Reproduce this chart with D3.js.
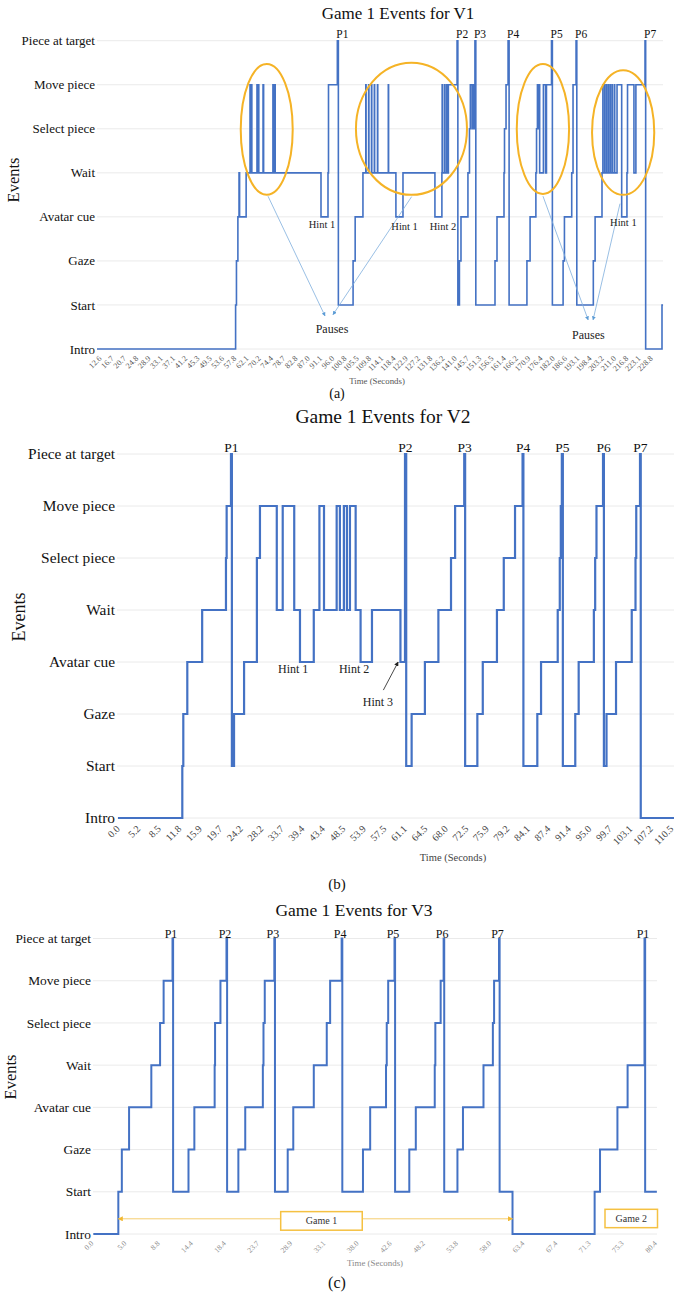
<!DOCTYPE html>
<html>
<head>
<meta charset="utf-8">
<script src="https://cdn.jsdelivr.net/npm/d3@7"></script>
<style>
  body { margin: 0; background: #fff; }
  text { font-family: "Liberation Serif", "Times New Roman", serif; }
</style>
</head>
<body>
<svg id="fig" width="674" height="1298"></svg>
<script>
// event categories, bottom to top
const events = ["Intro", "Start", "Gaze", "Avatar cue", "Wait", "Select piece", "Move piece", "Piece at target"];

// category labels shown on the time axes (seconds)
const ticksV1 = [12.6, 16.7, 20.7, 24.8, 28.9, 33.1, 37.1, 41.2, 45.3, 49.5, 53.6, 57.8, 62.1, 70.2, 74.4, 78.7, 82.8, 87.0, 91.1, 96.0,
  100.8, 105.5, 109.8, 114.1, 118.4, 122.9, 127.2, 131.8, 136.2, 141.0, 145.7, 151.3, 156.5, 161.4, 166.2, 170.9, 176.4, 182.0, 186.6,
  193.1, 198.4, 203.2, 211.0, 216.8, 223.1, 228.8];
const ticksV2 = [0.0, 5.2, 8.5, 11.8, 15.9, 19.7, 24.2, 28.2, 33.7, 39.4, 43.4, 48.5, 53.9, 57.5, 61.1, 64.5, 68.0, 72.5, 75.9, 79.2,
  84.1, 87.4, 91.4, 95.0, 99.7, 103.1, 107.2, 110.5];
const ticksV3 = [0.0, 5.0, 8.8, 14.4, 18.4, 23.7, 28.9, 33.1, 38.0, 42.6, 48.2, 53.8, 58.0, 63.4, 67.4, 71.3, 75.3, 80.4];

// [time (s), event index] - step changes
const stepsV1 = [[11.6,0],[58.1,1],[58.4,2],[58.9,3],[59.3,4],[59.5,3],[61.8,4],
  [64.1,6],[64.4,4],[65.0,6],[65.3,4],[68.7,6],[69.0,4],[69.6,6],[69.9,4],[71.5,6],[71.7,4],[74.9,6],[75.1,4],[75.5,6],[75.7,4],
  [91.3,3],[94.1,4],[94.3,6],[97.8,7],[98.2,1],[103.9,2],[104.7,3],[107.5,4],
  [108.5,6],[108.6,4],[109.5,6],[109.6,4],[110.5,6],[110.6,4],[111.5,6],[111.6,4],[112.6,6],[112.7,4],[116.4,6],[116.5,4],
  [119.1,3],[121.7,4],[133.3,3],[135.8,4],[135.9,6],[136.0,4],[136.8,6],[136.9,4],[137.6,6],[137.7,4],[138.3,6],[141.7,7],[142.0,1],
  [142.6,2],[143.2,3],[145.9,4],[146.6,5],[147.0,6],[147.8,5],[148.0,6],[148.6,5],[148.8,6],[149.1,7],[149.5,1],
  [157.7,2],[158.5,3],[161.3,4],[161.5,5],[162.1,6],[162.9,7],[163.3,1],
  [170.2,2],[171.5,3],[174.1,4],[174.4,5],[174.8,6],[175.3,5],[175.5,6],[175.8,4],[177.5,6],[178.5,4],[178.9,6],[181.2,7],[181.6,1],
  [185.7,2],[186.2,3],[189.9,4],[190.6,6],[192.2,7],[192.6,1],
  [199.7,2],[200.4,3],[203.1,4],
  [203.6,6],[203.7,4],[204.8,6],[204.9,4],[206.0,6],[206.1,4],[207.2,6],[207.3,4],[208.4,6],[208.5,4],[209.6,6],[209.7,4],
  [211.0,6],[211.1,4],[212.2,6],
  [214.4,3],[216.9,4],[217.2,6],[220.5,4],[221.5,6],[225.9,7],[226.2,0],[233.8,1],[234.3,1]];

const stepsV2 = [[0.0,0],[12.36,1],[12.56,2],[13.36,3],[16.3,4],[20.9,5],[21.05,6],[22.0,7],[22.2,1],[22.67,2],[24.8,3],
  [27.3,5],[27.9,6],[32.3,4],[33.9,6],[37.1,4],[38.7,3],[41.6,4],[42.7,6],[43.65,4],[46.8,6],[47.6,4],[48.6,6],[49.4,4],
  [50.2,6],[51.7,4],[53.0,3],[55.3,4],[60.3,3],[61.1,7],[61.3,1],[62.2,2],[64.4,3],[66.7,4],[69.1,5],[70.0,6],[72.0,7],
  [72.2,1],[74.3,2],[75.2,3],[77.5,4],[78.6,5],[81.0,6],[82.8,7],[83.0,1],[85.6,2],[86.2,3],[89.2,4],[89.6,5],[89.8,6],
  [90.0,7],[90.2,1],[92.5,2],[93.1,3],[96.0,4],[96.3,5],[96.6,6],[98.1,7],[98.3,1],[98.9,2],[100.7,3],[103.35,4],[104.1,5],
  [104.25,6],[105.0,7],[105.15,0],[110.9,0]];

const stepsV3 = [[0.2,0],[3.97,1],[4.5,2],[5.45,3],[8.0,4],[9.1,5],[9.7,6],[11.2,7],[11.3,1],[13.9,2],[14.75,3],[17.2,4],
  [17.25,5],[17.9,6],[18.7,7],[18.8,1],[20.6,2],[21.7,3],[24.5,4],[24.6,5],[24.8,6],[26.3,7],[26.4,1],[28.4,2],[29.2,3],
  [31.8,4],[33.5,5],[34.0,6],[35.7,7],[35.8,1],[38.8,2],[39.8,3],[42.0,4],[42.1,5],[42.3,6],[43.3,7],[43.4,1],[45.8,2],
  [46.9,3],[50.1,4],[50.2,5],[51.1,6],[51.6,7],[51.7,1],[53.9,2],[54.6,3],[57.2,4],[58.5,5],[58.7,6],[59.5,7],[59.6,1],
  [61.7,0],[71.95,1],[72.6,2],[74.7,3],[76.1,4],[78.7,7],[78.8,1],[80.6,1]];

const piecesV1 = ["P1", "P2", "P3", "P4", "P5", "P6", "P7"];
const piecesV2 = ["P1", "P2", "P3", "P4", "P5", "P6", "P7"];
const piecesV3 = ["P1", "P2", "P3", "P4", "P5", "P6", "P7", "P1"];

// annotations: [label, time, event level]
const hintsV1 = [["Hint 1", 91.7, 2.84], ["Hint 1", 122.3, 2.78], ["Hint 2", 136.2, 2.78], ["Hint 1", 215.2, 2.87]];
const hintsV2 = [["Hint 1", 36.8, 2.86], ["Hint 2", 51.3, 2.86], ["Hint 3", 56.35, 2.23]];
// circled regions: [t0, t1, level0, level1]
const circlesV1 = [[59.9, 81.7, 3.5, 6.47], [105.0, 145.5, 3.5, 6.5], [166.3, 188.5, 3.52, 6.47], [199.2, 230.2, 3.5, 6.33]];
// pause arrows: [t from, level from, t to, level to]
const pauseArrowsV1 = [[73.2, 3.47, 92.9, 0.75], [124.8, 3.46, 96.1, 0.78], [177.3, 3.47, 197.6, 0.66], [213.6, 3.3, 199.6, 0.66]];
const pauseTextV1 = [[95.7, 0.45], [197.7, 0.32]];
// game spans: [label, box t0, box t1, level0, level1, arrow start, arrow end]
const gamesV3 = [["Game 1", 27.3, 38.7, 0.09, 0.53, 3.97, 61.7], ["Game 2", 73.2, 80.7, 0.15, 0.585, null, null]];

const blue = "#4472C4";
const svg = d3.select("#fig");

const defs = svg.append("defs");
function marker(id, color, size) {
  defs.append("marker").attr("id", id).attr("viewBox", "0 0 10 10").attr("refX", 9).attr("refY", 5)
    .attr("markerWidth", size).attr("markerHeight", size).attr("orient", "auto")
    .append("path").attr("d", "M0,0L10,5L0,10Z").attr("fill", color);
}
marker("mBlue", "#5B9BD5", 5);
marker("mBlack", "#222", 5);
marker("mGold", "#F2B830", 5);

function panel(o) {
  const g = svg.append("g");
  const x = d3.scaleLinear().domain(o.ticks).range(o.ticks.map((d, i) => o.x0 + i * o.dx));
  const y = d3.scaleLinear().domain([0, 7]).range([o.bottom, o.top]);

  g.selectAll(".grid").data(d3.range(8)).join("line")
    .attr("x1", o.left).attr("x2", o.right).attr("y1", d => y(d)).attr("y2", d => y(d))
    .attr("stroke", "#e4e4e4").attr("stroke-width", 0.8);

  g.selectAll(".ylab").data(events).join("text")
    .attr("x", o.left - 2).attr("y", (d, i) => y(i)).attr("dy", "0.35em")
    .attr("text-anchor", "end").attr("font-size", o.yFont).attr("fill", "#111").text(d => d);

  g.selectAll(".xlab").data(o.ticks).join("text")
    .attr("transform", d => `translate(${x(d) + o.tx},${o.bottom + o.ty}) rotate(-45)`)
    .attr("dy", "0.35em").attr("text-anchor", "end")
    .attr("font-size", o.xFont).attr("fill", o.xColor).text(d => d.toFixed(1));

  const line = d3.line().x(d => x(d[0])).y(d => y(d[1])).curve(d3.curveStepAfter);
  g.append("path").datum(o.steps).attr("d", line)
    .attr("fill", "none").attr("stroke", blue).attr("stroke-width", o.lw);

  const peaks = o.steps.filter(d => d[1] === 7);
  g.selectAll(".plab").data(peaks).join("text")
    .attr("x", d => x(d[0]) + o.pdx).attr("y", y(7) - o.pdy)
    .attr("text-anchor", o.pAnchor).attr("font-size", o.pFont).attr("fill", "#111")
    .text((d, i) => o.pieces[i]);

  g.append("text").attr("x", o.titleX).attr("y", o.titleY).attr("text-anchor", "middle")
    .attr("font-size", o.titleFont).attr("fill", "#111").text(o.title);

  g.append("text").attr("transform", `translate(${o.evX},${o.evY}) rotate(-90)`)
    .attr("text-anchor", "middle").attr("font-size", o.evFont).attr("fill", "#111").text("Events");

  g.append("text").attr("x", o.timeX).attr("y", o.timeY).attr("text-anchor", "middle")
    .attr("font-size", o.timeFont).attr("fill", o.xColor).text("Time (Seconds)");

  g.append("text").attr("x", 337).attr("y", o.capY).attr("text-anchor", "middle")
    .attr("font-size", o.capFont).attr("fill", "#111").text(o.cap);

  return { g, x, y };
}

// ---------- (a) V1 ----------
const A = panel({
  ticks: ticksV1, steps: stepsV1, pieces: piecesV1,
  x0: 100, dx: 12.25, left: 97, right: 663, top: 40.7, bottom: 349,
  yFont: 13, xFont: 8, xColor: "#555", tx: 0, ty: 8, lw: 1.6,
  pdx: -1, pdy: 2.5, pAnchor: "start", pFont: 11.5,
  title: "Game 1 Events for V1", titleX: 398, titleY: 19, titleFont: 17,
  evX: 19, evY: 180, evFont: 16.5,
  timeX: 377, timeY: 384, timeFont: 8.8,
  cap: "(a)", capY: 398, capFont: 14
});
A.g.selectAll(".circ").data(circlesV1).join("ellipse")
  .attr("cx", d => (A.x(d[0]) + A.x(d[1])) / 2).attr("cy", d => (A.y(d[2]) + A.y(d[3])) / 2)
  .attr("rx", d => (A.x(d[1]) - A.x(d[0])) / 2).attr("ry", d => (A.y(d[2]) - A.y(d[3])) / 2)
  .attr("fill", "none").attr("stroke", "#F5B326").attr("stroke-width", 2);
A.g.selectAll(".parr").data(pauseArrowsV1).join("line")
  .attr("x1", d => A.x(d[0])).attr("y1", d => A.y(d[1])).attr("x2", d => A.x(d[2])).attr("y2", d => A.y(d[3]))
  .attr("stroke", "#7FAEDD").attr("stroke-width", 0.8).attr("marker-end", "url(#mBlue)");
A.g.selectAll(".ptxt").data(pauseTextV1).join("text")
  .attr("x", d => A.x(d[0])).attr("y", d => A.y(d[1])).attr("dy", "0.35em").attr("text-anchor", "middle")
  .attr("font-size", 12).attr("fill", "#222").text("Pauses");
A.g.selectAll(".hint").data(hintsV1).join("text")
  .attr("x", d => A.x(d[1])).attr("y", d => A.y(d[2])).attr("dy", "0.35em").attr("text-anchor", "middle")
  .attr("font-size", 10.5).attr("fill", "#222").text(d => d[0]);

// ---------- (b) V2 ----------
const B = panel({
  ticks: ticksV2, steps: stepsV2, pieces: piecesV2,
  x0: 118, dx: 20.5, left: 117, right: 674, top: 454, bottom: 818,
  yFont: 15.4, xFont: 10, xColor: "#444", tx: 0, ty: 9, lw: 2.2,
  pdx: 0.5, pdy: 2.5, pAnchor: "middle", pFont: 13.5,
  title: "Game 1 Events for V2", titleX: 383, titleY: 423, titleFont: 19.5,
  evX: 25, evY: 617, evFont: 18,
  timeX: 453, timeY: 861, timeFont: 10.5,
  cap: "(b)", capY: 889, capFont: 15
});
B.g.selectAll(".hint").data(hintsV2).join("text")
  .attr("x", d => B.x(d[1])).attr("y", d => B.y(d[2])).attr("dy", "0.35em").attr("text-anchor", "middle")
  .attr("font-size", 12).attr("fill", "#222").text(d => d[0]);
B.g.append("line")
  .attr("x1", B.x(57.3)).attr("y1", B.y(2.46)).attr("x2", B.x(59.9)).attr("y2", B.y(3.0))
  .attr("stroke", "#333").attr("stroke-width", 0.9).attr("marker-end", "url(#mBlack)");

// ---------- (c) V3 ----------
const C = panel({
  ticks: ticksV3, steps: stepsV3, pieces: piecesV3,
  x0: 92, dx: 33.15, left: 93, right: 657, top: 938.5, bottom: 1234,
  yFont: 13.4, xFont: 7.5, xColor: "#8a8a8a", tx: 0, ty: 8, lw: 2,
  pdx: -1.5, pdy: 1, pAnchor: "middle", pFont: 12,
  title: "Game 1 Events for V3", titleX: 354, titleY: 916, titleFont: 17.5,
  evX: 16, evY: 1077, evFont: 16.5,
  timeX: 375, timeY: 1266, timeFont: 8.9,
  cap: "(c)", capY: 1288, capFont: 16
});
gamesV3.forEach(d => {
  const x0 = C.x(d[1]), x1 = C.x(d[2]), y0 = C.y(d[4]), y1 = C.y(d[3]);
  const ym = C.y(0.36);
  if (d[5] !== null) {
    C.g.append("line").attr("x1", x0).attr("x2", C.x(d[5])).attr("y1", ym).attr("y2", ym)
      .attr("stroke", "#F6CE6E").attr("stroke-width", 1).attr("marker-end", "url(#mGold)");
    C.g.append("line").attr("x1", x1).attr("x2", C.x(d[6])).attr("y1", ym).attr("y2", ym)
      .attr("stroke", "#F6CE6E").attr("stroke-width", 1).attr("marker-end", "url(#mGold)");
  }
  C.g.append("rect").attr("x", x0).attr("y", y0).attr("width", x1 - x0).attr("height", y1 - y0)
    .attr("fill", "#fff").attr("stroke", "#F5C142").attr("stroke-width", 1.5);
  C.g.append("text").attr("x", (x0 + x1) / 2).attr("y", (y0 + y1) / 2).attr("dy", "0.35em")
    .attr("text-anchor", "middle").attr("font-size", 10).attr("fill", "#333").text(d[0]);
});
</script>
</body>
</html>
